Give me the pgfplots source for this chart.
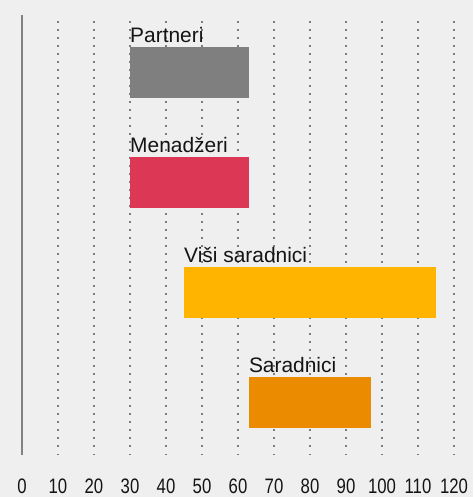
\documentclass[border=0pt]{standalone}
\usepackage{pgfplots}
\pgfplotsset{compat=1.18}
\usepackage{fontspec}
\setmainfont{Liberation Sans}
\usetikzlibrary{backgrounds,calc}
\definecolor{bgc}{RGB}{239,239,239}
\definecolor{cgray}{RGB}{127,127,127}
\definecolor{cred}{RGB}{220,56,86}
\definecolor{cyellow}{RGB}{255,181,0}
\definecolor{corange}{RGB}{235,139,0}
\definecolor{gridc}{RGB}{125,125,125}
\definecolor{axc}{RGB}{130,130,130}
\definecolor{txt}{RGB}{20,20,20}
\begin{document}
\begin{tikzpicture}
\begin{axis}[
  scale only axis, width=432bp, height=440bp,
  xmin=0, xmax=120, ymin=0.523, ymax=4.523,
  axis x line*=bottom, axis y line*=left,
  x axis line style={draw=none},
  y axis line style={draw=axc, line width=1.5bp, -},
  ytick=\empty,
  xtick={0,10,...,120},
  major tick length=0,
  xmajorgrids,
  major grid style={draw=gridc, line width=1.5bp, dash pattern=on 1.5bp off 6.5bp},
  xticklabel={\scalebox{0.8}[1]{\pgfmathprintnumber[assume math mode=true]{\tick}}},
  xticklabel style={font=\fontsize{21}{21}\selectfont, text=txt, anchor=base, yshift=-38bp, inner sep=0pt},
  xbar stacked, bar width=51bp,
  clip=false,
]
% invisible start offsets
\addplot[draw=none, fill=none] coordinates {(30,4) (30,3) (45,2) (63,1)};
% Partneri
\addplot[draw=none, fill=cgray] coordinates {(33,4) (0,3) (0,2) (0,1)};
% Menadzeri
\addplot[draw=none, fill=cred] coordinates {(0,4) (33,3) (0,2) (0,1)};
% Visi saradnici
\addplot[draw=none, fill=cyellow] coordinates {(0,4) (0,3) (70,2) (0,1)};
% Saradnici
\addplot[draw=none, fill=corange] coordinates {(0,4) (0,3) (0,2) (34,1)};
\node[anchor=base west, inner sep=0pt, text=txt, font=\fontsize{21}{21}\selectfont, yshift=30.5bp] at (axis cs:30,4) {Partneri};
\node[anchor=base west, inner sep=0pt, text=txt, font=\fontsize{21}{21}\selectfont, yshift=30.5bp] at (axis cs:30,3) {Menadžeri};
\node[anchor=base west, inner sep=0pt, text=txt, font=\fontsize{21}{21}\selectfont, yshift=30.5bp] at (axis cs:45,2) {Viši saradnici};
\node[anchor=base west, inner sep=0pt, text=txt, font=\fontsize{21}{21}\selectfont, yshift=30.5bp] at (axis cs:63,1) {Saradnici};
\end{axis}
\begin{scope}[on background layer]
\fill[bgc] ($(current axis.south west)+(-22bp,-42bp)$) rectangle ($(current axis.north east)+(19bp,15bp)$);
\end{scope}
\pgfresetboundingbox
\useasboundingbox ($(current axis.south west)+(-22bp,-42bp)$) rectangle ($(current axis.north east)+(19bp,15bp)$);
\end{tikzpicture}
\end{document}
